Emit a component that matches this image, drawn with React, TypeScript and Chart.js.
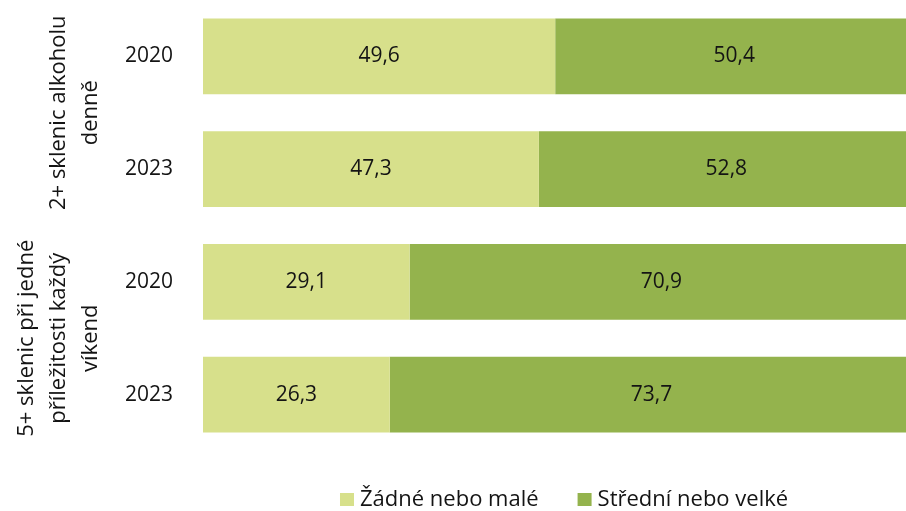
import React, { useEffect, useRef } from 'react';
import { Chart, registerables } from 'chart.js';

Chart.register(...registerables);

const years: string[] = ['2020', '2023', '2020', '2023'];
const groupLines: string[][] = [
  ['2+ sklenic alkoholu', 'denně'],
  ['5+ sklenic při jedné', 'příležitosti každý', 'víkend'],
];
const groupSpans: number[][] = [[0, 1], [2, 3]];
const seriesNames: string[] = ['Žádné nebo malé', 'Střední nebo velké'];
const lowValues: number[] = [49.6, 47.3, 29.1, 26.3];
const highValues: number[] = [50.4, 52.8, 70.9, 73.7];
const seriesColors: string[] = ['#D7E08B', '#94B34D'];
const xMax = 99;

const FONT = "'Open Sans', 'Noto Sans', sans-serif";
const TEXT = '#141414';

const fmt = (v: number) => v.toFixed(1).replace('.', ',');

const customPlugin = {
  id: 'custom',
  afterDatasetsDraw(chart: any) {
    const ctx = chart.ctx;
    ctx.save();
    ctx.font = `21px ${FONT}`;
    ctx.fillStyle = TEXT;
    ctx.textAlign = 'center';
    ctx.textBaseline = 'middle';
    chart.data.datasets.forEach((ds: any, di: number) => {
      const meta = chart.getDatasetMeta(di);
      meta.data.forEach((el: any, i: number) => {
        const cx = (el.x + el.base) / 2;
        ctx.fillText(fmt(ds.data[i]), cx, el.y);
      });
    });
    ctx.restore();
  },
  afterDraw(chart: any) {
    const ctx = chart.ctx;
    const yScale = chart.scales.y;
    const xScale = chart.scales.x;
    const area = chart.chartArea;
    ctx.save();
    // group labels (rotated)
    ctx.font = `22px ${FONT}`;
    ctx.fillStyle = TEXT;
    ctx.textAlign = 'center';
    ctx.textBaseline = 'alphabetic';
    const lastBaseline = 97;
    const lineGap = 32;
    groupLines.forEach((lines, gi) => {
      const span = groupSpans[gi];
      const cy = (yScale.getPixelForValue(span[0]) + yScale.getPixelForValue(span[1])) / 2;
      lines.forEach((line, li) => {
        const bx = lastBaseline - (lines.length - 1 - li) * lineGap;
        ctx.save();
        ctx.translate(bx, cy);
        ctx.rotate(-Math.PI / 2);
        ctx.fillText(line, 0, 0);
        ctx.restore();
      });
    });
    // legend
    ctx.font = `22px ${FONT}`;
    const box = 14;
    const gapBoxText = 6;
    const itemGap = 39;
    const widths = seriesNames.map((n) => ctx.measureText(n).width);
    const total = widths.reduce((a, w) => a + box + gapBoxText + w, 0) + itemGap * (seriesNames.length - 1);
    const center = (area.left + xScale.getPixelForValue(100)) / 2 + 6;
    let x = center - total / 2;
    const baseline = 506;
    ctx.textAlign = 'left';
    seriesNames.forEach((n, i) => {
      ctx.fillStyle = seriesColors[i];
      ctx.fillRect(x, baseline - 13, box, 13);
      ctx.fillStyle = TEXT;
      ctx.fillText(n, x + box + gapBoxText, baseline);
      x += box + gapBoxText + widths[i] + itemGap;
    });
    ctx.restore();
  },
};

export default function App() {
  const ref = useRef<HTMLCanvasElement | null>(null);
  useEffect(() => {
    document.body.style.margin = '0';
    const canvas = ref.current;
    if (!canvas) return;
    const chart = new Chart(canvas, {
      type: 'bar',
      data: {
        labels: years,
        datasets: [
          {
            label: seriesNames[0],
            data: lowValues,
            backgroundColor: seriesColors[0],
            borderWidth: 0,
            barPercentage: 0.672,
            categoryPercentage: 1,
          },
          {
            label: seriesNames[1],
            data: highValues,
            backgroundColor: seriesColors[1],
            borderWidth: 0,
            barPercentage: 0.672,
            categoryPercentage: 1,
          },
        ],
      },
      options: {
        indexAxis: 'y',
        responsive: false,
        animation: false,
        layout: { padding: { top: 0, right: 0, bottom: 60, left: 0 } },
        plugins: {
          legend: { display: false },
          tooltip: { enabled: false },
        },
        scales: {
          x: {
            stacked: true,
            min: 0,
            max: xMax,
            display: false,
          },
          y: {
            stacked: true,
            grid: { display: false, drawTicks: false },
            border: { display: false },
            ticks: {
              color: TEXT,
              padding: 30,
              font: { family: FONT, size: 21 },
            },
            afterFit: (s: any) => {
              s.width = 203;
              s.paddingTop = 0;
              s.paddingBottom = 0;
            },
          },
        },
      },
      plugins: [customPlugin],
    });
    return () => chart.destroy();
  }, []);
  return (
    <div style={{ width: 906, height: 511 }}>
      <canvas ref={ref} width={906} height={511} style={{ display: 'block' }} />
    </div>
  );
}
